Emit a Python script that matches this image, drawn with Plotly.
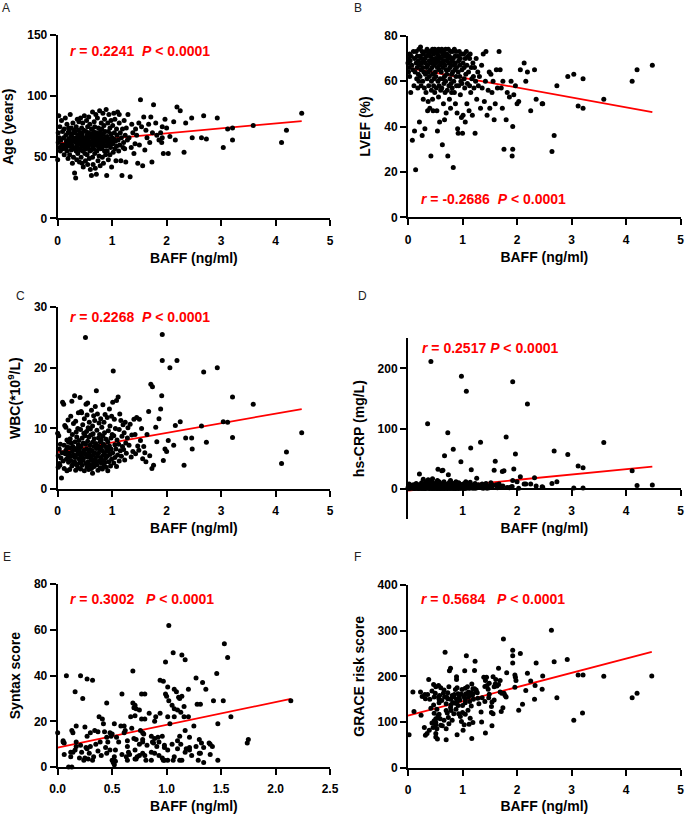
import plotly.graph_objects as go

# ---------------- Panels A-D: shared BAFF values (ng/ml) ----------------
baff_cluster = [
    0.00,0.01,0.01,0.02,0.03,0.03,0.04,0.05,0.06,0.07,0.08,0.09,0.10,
    0.11,0.12,0.12,0.13,0.14,0.15,0.15,0.16,0.17,0.17,0.18,0.19,0.19,0.20,0.20,
    0.21,0.21,0.22,0.22,0.23,0.24,0.24,0.25,0.25,0.26,0.26,0.27,0.27,0.28,0.28,0.29,0.29,0.30,
    0.31,0.31,0.32,0.32,0.33,0.33,0.34,0.34,0.35,0.35,0.36,0.36,0.37,0.37,0.38,0.38,0.39,0.39,0.40,0.40,
    0.41,0.41,0.42,0.42,0.43,0.43,0.43,0.44,0.44,0.45,0.45,0.45,0.46,0.46,0.47,0.47,0.48,0.48,0.49,0.49,0.50,0.50,
    0.51,0.51,0.52,0.52,0.53,0.53,0.54,0.54,0.54,0.55,0.55,0.56,0.56,0.57,0.57,0.57,0.58,0.58,0.59,0.59,0.60,0.60,
    0.61,0.61,0.62,0.62,0.63,0.63,0.64,0.64,0.64,0.65,0.65,0.66,0.66,0.67,0.67,0.67,0.68,0.68,0.69,0.69,0.70,0.70,
    0.71,0.71,0.72,0.72,0.73,0.73,0.74,0.74,0.75,0.75,0.76,0.76,0.77,0.77,0.78,0.78,0.79,0.79,0.80,0.80,0.80,
    0.81,0.81,0.82,0.82,0.83,0.83,0.84,0.84,0.85,0.85,0.86,0.86,0.87,0.87,0.88,0.88,0.89,0.89,0.90,
    0.91,0.91,0.92,0.92,0.93,0.93,0.94,0.95,0.95,0.96,0.96,0.97,0.98,0.98,0.99,0.99,1.00,
    1.01,1.01,1.02,1.03,1.03,1.04,1.05,1.05,1.06,1.07,1.08,1.08,1.09,1.10,
    1.11,1.12,1.13,1.13,1.14,1.15,1.16,1.17,1.18,1.19,1.20,
    1.21,1.22,1.23,1.24,1.25,1.26,1.28,1.29,
    1.31,1.33,1.35,1.36,1.38,1.40,
    1.42,1.43,1.45,1.47,1.49,
]
baff_sparse = [4.48,4.20,4.11,3.59,3.21,3.21,3.12,3.04,2.93,2.73,
               2.68,2.64,2.47,2.46,2.35,2.32,2.25,2.19,2.16,2.13,
               2.06,2.03,2.00,1.97,1.94,1.92,1.92,1.91,1.89,1.86,
               1.80,1.76,1.73,1.74,1.71,1.67,1.64,1.60,1.58,1.56,
               1.54,1.52,1.69,1.82,1.62,1.50]

age_cluster = [
    48,62,70,84,58,66,75,55,64,80,60,71,57,
    66,52,73,60,82,58,68,63,55,77,61,70,49,65,74,
    59,71,64,52,85,62,67,56,74,60,69,45,63,78,57,66,50,72,
    37,64,58,70,33,62,75,55,66,48,81,60,68,53,72,63,57,79,65,46,
    61,70,56,82,64,50,67,59,74,45,63,69,55,78,60,42,66,72,58,84,53,65,
    62,47,71,57,80,64,52,68,60,75,44,66,58,83,63,70,49,61,77,55,67,40,
    69,56,35,73,61,66,50,87,59,64,44,71,57,79,62,68,53,75,41,65,85,60,
    36,63,70,55,82,61,47,67,58,74,64,51,88,60,69,43,72,57,66,78,62,
    58,73,64,50,86,62,69,45,76,60,55,81,66,71,52,63,89,59,35,
    67,55,78,62,71,48,85,60,65,52,74,58,69,80,63,42,66,
    61,76,54,86,65,70,57,81,63,47,73,59,68,87,
    64,55,78,85,60,70,47,66,35,73,58,
    62,80,57,68,46,74,64,85,
    66,34,58,77,70,53,
    61,73,68,45,78,
]
age_sparse = [86,72,62,76,74,64,73,58,82,65,
              84,66,66,82,78,54,88,91,64,79,
              67,53,74,81,53,75,66,62,70,64,
              78,93,46,70,83,77,66,56,83,43,
              75,97,62,68,72,60]

lvef_cluster = [
    68,70,64,66,72,62,69,55,71,67,34,65,73,
    58,38,70,64,21,68,73,61,66,71,57,69,63,74,60,
    67,42,71,62,75,65,58,70,68,36,73,60,66,52,72,64,69,57,
    70,39,63,68,73,55,66,71,61,74,47,67,64,51,72,58,69,62,73,48,
    65,71,27,68,60,73,56,70,66,74,52,63,69,47,72,58,67,61,74,55,70,64,
    68,62,73,57,70,47,66,38,72,60,69,74,53,65,71,58,67,42,73,61,56,68,
    70,64,74,57,32,68,61,72,66,50,73,59,69,43,62,71,55,67,74,60,65,46,
    72,63,69,56,27,70,65,74,58,68,52,71,61,66,73,48,67,59,70,63,55,
    69,57,73,64,22,70,60,67,74,55,65,71,50,68,62,73,58,66,46,
    71,39,64,37,69,58,73,62,67,54,70,60,72,44,65,59,37,
    68,45,72,61,66,57,42,70,63,73,50,67,59,71,
    64,47,70,58,72,55,66,61,45,68,62,
    57,66,37,60,70,52,64,58,
    62,48,67,57,72,51,
    60,73,45,56,64,
]
lvef_sparse = [67,65,60,52,61,48,49,63,62,58,
               36,29,50,50,52,65,47,64,60,68,
               65,51,50,58,54,40,30,27,60,53,
               43,30,48,60,57,73,57,50,43,60,
               55,63,65,55,65,48]

wbc_cluster = [
    9.2,3.6,5.5,8.8,4.2,6.6,3.9,7.4,5.1,1.8,6.0,14.3,4.6,
    14.0,7.2,3.4,10.5,5.8,6.4,10.2,4.9,8.1,3.0,6.9,5.3,11.4,7.7,4.4,
    5.9,9.6,3.2,6.8,8.3,4.7,12.0,5.4,7.6,3.8,14.5,6.2,9.0,4.1,7.0,5.6,10.8,6.5,
    15.4,4.5,7.8,5.2,11.2,3.1,6.7,9.4,4.0,8.6,5.7,6.3,10.0,3.5,7.3,12.6,5.0,8.0,6.1,4.3,
    15.1,6.8,3.3,9.8,5.5,12.8,7.1,4.6,12.6,6.0,8.4,3.9,10.6,5.2,7.6,4.8,9.2,6.4,3.0,11.6,5.8,8.8,
    7.4,25.0,4.2,14.0,6.6,9.5,3.6,12.2,5.3,14.2,7.9,4.5,10.1,6.2,8.6,3.2,11.0,5.7,7.2,4.0,9.9,6.5,
    5.1,8.9,3.4,13.0,6.3,4.7,10.4,7.7,2.6,9.1,5.6,12.1,4.2,7.0,8.3,3.7,6.0,11.3,5.0,13.6,7.5,4.4,
    6.7,16.2,4.0,9.7,5.4,12.4,7.1,3.1,8.4,5.9,10.9,4.6,6.5,9.0,3.5,7.8,11.6,5.2,6.9,4.3,8.1,
    4.8,10.2,6.3,3.3,8.7,13.9,5.6,7.4,3.9,11.0,6.0,9.3,4.4,12.3,7.0,5.1,8.2,3.6,6.6,
    11.8,5.4,7.8,3.0,9.6,6.2,4.5,13.2,7.1,5.7,10.4,3.8,8.4,6.6,12.0,4.9,9.0,
    14.3,6.0,19.5,8.8,4.3,11.5,7.3,5.2,10.0,6.6,3.7,14.6,8.1,5.6,
    15.2,7.4,9.8,4.6,12.4,6.3,11.3,5.4,8.7,7.0,10.6,
    6.5,9.3,4.8,11.0,7.6,5.9,8.4,10.1,
    7.2,10.7,5.3,8.9,6.2,11.5,
    9.0,5.8,11.8,7.1,6.4,
]
wbc_sparse = [9.3,6.1,4.2,14.0,15.2,8.5,11.0,11.1,20.0,7.7,
              19.3,10.4,6.6,8.4,8.4,3.9,11.1,21.2,10.5,7.2,
              20.0,8.0,6.2,6.6,4.7,25.5,21.2,15.4,13.2,11.6,
              10.2,3.9,3.4,16.9,17.3,12.8,9.0,6.0,7.0,5.0,
              10.0,8.0,5.5,7.8,4.5,11.5]

crp_cluster = [
    2,5,1,8,3,0.5,4,1.5,6,2,3,1,7,
    1,3,0.5,5,2,9,1,4,2.5,1,6,0.5,3,2,7,
    24.7,1,4,2,6,0.5,3,10,1.5,5,2,8,1,3.5,16,0.5,4,2,
    1,6,3,0.5,12,2,4,1.5,9,3,108,1,5,15,2,7,0.5,3,11,1,
    4,2,8,211.5,1,5,3,0.5,13,2,6,17,1,4,2.5,9,0.5,3,7,1.5,5,2,
    1,6,3,10,0.5,2,4,14,1,32.4,5,2,8,0.5,3,12,1,6,2,4,0.5,7,
    3,1,30,5,2,9,0.5,31,4,1.5,7,2,12,0.5,5,55,3,1,8,2,6,4,
    1,5,3,0.5,93,2,23.6,8,1,4,2,11,0.5,6,3,14,1,5,2,9,3,
    2,6,1,4,66,0.5,3,9,2,5,1,7,3,0.5,12,2,4,1,8,
    3,1,6,2,10,0.5,4,2,8,1,5,45,3,187,7,1,4,
    2,6,1,9,3,0.5,5,2,12,162,1,4,7,3,
    5,2,8,1,11,68,31.9,3,6,1,4,
    2,6,9,1,4,17.6,3,7,
    5,77.5,2,8,1,4,
    3,9,1,5,2,
]
crp_sparse = [6.6,5.5,30,77,35,1.5,38,1.6,57,12,
              63,8.8,2.7,3.5,5,18.7,8.2,141,8.2,8,
              20,1.1,12,58,33,178,14,4,3,2,
              86,30,29,5,3,8,2,46,31,6,
              3,10,4,2.5,7,5]

# ---------------- Panel E: Syntax score subset ----------------
e_baff = [
    1.02,1.53,1.06,1.14,1.56,1.17,0.99,0.69,1.46,0.08,0.21,1.27,
    0.27,0.32,0.94,0.97,1.33,1.01,1.07,1.20,1.36,0.16,1.09,
    0.59,0.77,0.80,0.99,1.00,1.14,1.11,0.23,1.12,1.02,1.52,1.43,2.14,
    0.45,0.69,1.28,1.31,1.05,0.70,0.71,0.72,0.75,1.07,1.10,1.16,
    0.84,0.94,1.13,0.38,0.67,0.71,0.90,1.01,1.07,1.16,1.20,1.59,
    0.41,0.77,0.80,0.89,0.17,0.25,0.42,0.52,0.58,0.61,1.03,1.25,1.47,0.68,
    0.13,0.14,0.30,0.34,0.37,0.43,0.48,0.50,0.62,0.61,0.76,0.78,0.79,1.17,0.00,
    0.27,0.45,0.49,0.54,0.86,0.89,0.92,0.96,1.12,1.21,1.75,
    0.05,0.05,0.06,0.17,0.35,0.39,0.46,0.56,0.64,0.70,0.72,0.75,0.78,0.78,0.87,0.88,0.93,1.05,1.10,1.13,1.30,1.32,1.39,1.40,1.74,
    0.16,0.17,0.21,0.26,0.27,0.30,0.44,0.48,0.53,0.64,0.71,0.82,0.91,0.98,0.98,1.01,1.10,1.18,1.21,1.21,1.27,1.34,1.42,
    0.06,0.12,0.12,0.14,0.22,0.29,0.33,0.37,0.40,0.45,0.52,0.59,0.63,0.65,0.66,0.75,0.78,0.80,0.86,0.89,0.93,1.17,1.23,1.30,1.31,1.40,
    0.20,0.25,0.28,0.24,0.32,0.50,0.53,0.64,0.71,0.72,0.73,0.81,0.86,0.96,0.97,0.98,1.01,1.06,1.07,1.12,1.14,1.29,1.34,1.47,
    0.51,0.52,0.10,0.13,
]
syntax_score = [
    62,54,50,49,48,47,46,42,41,40,40,39,
    38.5,38,38,37.5,37,35,34,34,34,33,33,
    32,32,32,32,31,31,30.5,30,30,29,29,29,29,
    28,28,27.5,27.5,27,26,27,25.5,25,25.5,25,26.5,
    23.5,23.5,24,22,22,22.5,22,22,22,22,22,22,
    21,21,21,20,18,17.5,19,19,18,18,19,18,19,17,
    16,15,15,16,15.5,15.5,15,14.5,16,15,16,15,14.5,16,15,
    13.5,13,13.5,13,13.5,12.5,13,13.5,13.5,13,12,
    11.5,11,10.5,11,10,11,11,11,11.5,12.5,12,10,11,12,11,10.5,11,10,11.5,10,12,10.5,10.5,10,10.5,
    7.5,9,9.5,8.5,8,9,8.5,7.5,7.5,9,7.5,9.5,9,9.5,8.5,7.5,8,8,8.5,7.5,9,8.5,9,
    5.5,4.5,6.5,6.5,6.5,6,4.5,7,5,6,4.5,5.5,4.5,6.5,5.5,5,6,5,6.5,6,5,6.5,5,6,6,5.5,
    4,4,3.5,3,3,3,2.5,3,3.5,3.5,4.5,3,3,4,3,3,3,3,4.5,3,3,3,2,3,
    2,1,0,0,
]

# ---------------- Panel F: GRACE risk score subset ----------------
f_baff = [
    2.63,1.75,0.68,1.92,1.92,2.06,1.07,1.23,1.92,2.35,2.68,2.92,1.66,0.78,0.76,1.04,1.22,1.81,1.96,2.19,2.47,3.21,3.12,3.59,4.47,
    0.89,0.89,0.38,1.39,1.44,1.56,1.61,1.42,1.69,1.98,2.25,1.49,1.60,1.45,1.41,1.58,1.63,1.66,1.96,2.33,
    2.46,1.17,1.09,0.56,0.51,0.47,0.60,0.75,0.90,0.87,0.99,1.05,1.19,1.22,1.97,1.47,
    2.16,1.25,1.11,0.09,0.23,0.31,0.50,0.65,0.73,0.67,0.71,0.81,0.92,0.98,1.06,1.16,1.19,1.27,1.49,1.69,
    1.72,1.76,1.78,1.80,2.73,2.32,4.11,4.20,0.26,0.32,0.48,0.56,0.57,0.73,0.78,0.84,0.89,0.94,1.03,1.05,
    1.11,1.18,1.28,1.36,1.48,0.44,0.66,0.85,0.36,0.58,1.12,1.25,1.20,0.40,
    1.41,1.54,0.82,0.87,0.79,0.57,0.47,0.90,1.00,1.05,0.92,0.78,1.16,1.53,1.74,1.71,2.10,2.03,3.20,0.11,
    0.70,0.72,0.88,1.10,1.34,1.53,0.62,0.95,1.13,1.30,0.70,0.79,1.00,0.53,1.58,0.42,
    3.04,0.24,0.48,0.55,0.57,0.93,1.05,1.56,0.51,0.59,0.66,0.81,0.51,0.48,0.44,0.51,0.60,0.75,0.98,1.03,
    1.12,1.19,1.35,1.54,0.84,0.74,0.96,1.14,0.63,
    0.46,0.53,0.70,1.01,0.30,0.39,0.32,0.35,0.02,0.51,0.90,0.51,0.54,0.70,1.17,1.42,
]
grace_score = [
    301,282,253,257,245,250,245,233,229,229,232,237,218,218,212,212,213,208,203,207,201,203,203,200,201,
    199,193,193,198,198,199,193,191,191,191,190,185,183,180,178,177,179,182,176,180,
    172,183,177,180,177,182,175,177,175,171,171,174,173,173,198,172,
    169,167,166,166,166,160,163,163,164,155,155,158,162,161,162,164,162,164,161,166,
    163,163,158,155,153,150,153,163,156,151,155,155,150,151,150,155,150,154,155,150,
    155,158,152,153,153,168,170,160,160,158,160,170,150,150,
    145,144,143,141,138,142,137,145,136,142,136,132,135,134,131,123,139,126,120,123,
    125,120,128,126,122,121,147,148,145,140,140,125,121,128,148,130,
    104,115,119,113,117,118,117,118,107,107,104,104,99,103,98,94,93,96,101,94,
    95,99,100,92,118,110,112,108,92,
    88,85,85,82,88,82,71,75,72,75,72,67,63,61,64,76,
]

# Regression lines (intercept, slope), panels A-F
fit_intercepts = [61.4, 65.9, 6.1, -2.8, 8.5, 113.9]
fit_slopes = [4.06, -4.375, 1.585, 8.89, 9.97, 31.3]

panel_letters = ["A", "B", "C", "D", "E", "F"]
stat_texts = [
    "<b><i>r</i> = 0.2241\u00a0\u00a0<i>P</i> &lt; 0.0001</b>",
    "<b><i>r</i> = -0.2686\u00a0\u00a0<i>P</i> &lt; 0.0001</b>",
    "<b><i>r</i> = 0.2268\u00a0\u00a0<i>P</i> &lt; 0.0001</b>",
    "<b><i>r</i> = 0.2517 <i>P</i> &lt; 0.0001</b>",
    "<b><i>r</i> = 0.3002\u00a0\u00a0\u00a0<i>P</i> &lt; 0.0001</b>",
    "<b><i>r</i> = 0.5684\u00a0\u00a0\u00a0<i>P</i> &lt; 0.0001</b>",
]
y_titles = ["Age (years)", "LVEF (%)", "WBC(*10<sup>9</sup>/L)", "hs-CRP (mg/L)",
            "Syntax score", "GRACE risk score"]
x_title = "BAFF (ng/ml)"

baff = baff_cluster + baff_sparse
age = age_cluster + age_sparse
lvef = lvef_cluster + lvef_sparse
wbc = wbc_cluster + wbc_sparse
crp = crp_cluster + crp_sparse
for arr in (age, lvef, wbc, crp):
    assert len(arr) == len(baff), (len(arr), len(baff))
assert len(e_baff) == len(syntax_score), (len(e_baff), len(syntax_score))
assert len(f_baff) == len(grace_score), (len(f_baff), len(grace_score))

panels = [(baff, age), (baff, lvef), (baff, wbc), (baff, crp),
          (e_baff, syntax_score), (f_baff, grace_score)]

FONT = "Liberation Sans, Arial, sans-serif"
fig = go.Figure()

for i, (xs, ys) in enumerate(panels):
    sfx = "" if i == 0 else str(i + 1)
    xmax = max(xs)
    fig.add_trace(go.Scatter(
        x=[0, xmax],
        y=[fit_intercepts[i], fit_intercepts[i] + fit_slopes[i] * xmax],
        mode="lines", line=dict(color="#ff0000", width=1.8),
        xaxis="x" + sfx, yaxis="y" + sfx, showlegend=False, hoverinfo="skip"))
    fig.add_trace(go.Scatter(
        x=xs, y=ys, mode="markers",
        marker=dict(color="black", size=5, line=dict(width=0)),
        cliponaxis=False,
        xaxis="x" + sfx, yaxis="y" + sfx, showlegend=False))

left_dom = [0.0842, 0.4818]
right_dom = [0.5956, 0.9937]
x_domains = [left_dom, right_dom, left_dom, right_dom, left_dom, right_dom]
y_domains = [[0.7318, 0.957], [0.733, 0.9561], [0.3993, 0.6225],
             [0.3624, 0.5844], [0.0577, 0.2822], [0.0569, 0.2813]]
y_ranges = [[0, 150], [0, 80], [0, 30], [-50, 250], [0, 80], [0, 400]]
y_ticks = [[0, 50, 100, 150], [0, 20, 40, 60, 80], [0, 10, 20, 30],
           [0, 100, 200], [0, 20, 40, 60, 80], [0, 100, 200, 300, 400]]
x_ranges = [[0, 5]] * 4 + [[0, 2.5], [0, 5]]
x_ticks = [[0, 1, 2, 3, 4, 5]] * 3 + [[1, 2, 3, 4, 5], [0, 0.5, 1, 1.5, 2, 2.5], [0, 1, 2, 3, 4, 5]]

common = dict(showline=True, linecolor="black", linewidth=2, ticks="outside",
              ticklen=6, tickwidth=2, tickcolor="black", showgrid=False,
              zeroline=False, fixedrange=True, automargin=False,
              tickfont=dict(family=FONT, size=12, color="black", weight="bold"))

layout = {}
for i in range(6):
    sfx = "" if i == 0 else str(i + 1)
    xa = dict(common, domain=x_domains[i], range=x_ranges[i], tickvals=x_ticks[i],
              anchor="y" + sfx, ticklabelstandoff=4,
              title=dict(text=x_title, standoff=6,
                         font=dict(family=FONT, size=14, color="black", weight="bold")))
    if i == 4:
        xa["tickformat"] = ".1f"
    if i == 3:
        xa["anchor"] = "free"
        xa["position"] = 0.3989
    ya = dict(common, domain=y_domains[i], range=y_ranges[i], tickvals=y_ticks[i],
              anchor="x" + sfx,
              title=dict(text=y_titles[i], standoff=10,
                         font=dict(family=FONT, size=14, color="black", weight="bold")))
    layout["xaxis" + sfx] = xa
    layout["yaxis" + sfx] = ya

letter_pos = [(6, 8), (358, 8), (20, 296), (362, 296), (7, 557), (357, 557)]
stat_pos = [(68, 51), (419, 199), (68, 317), (420, 348), (68, 599), (419, 599)]
W, H = 685, 814
annotations = []
for i in range(6):
    lx, ly = letter_pos[i]
    annotations.append(dict(x=lx / W, y=1 - ly / H, xref="paper", yref="paper",
                            text=panel_letters[i], showarrow=False,
                            xanchor="center", yanchor="middle",
                            font=dict(family=FONT, size=12, color="#222222")))
    sx, sy = stat_pos[i]
    annotations.append(dict(x=sx / W, y=1 - sy / H, xref="paper", yref="paper",
                            text=stat_texts[i], showarrow=False,
                            xanchor="left", yanchor="middle",
                            font=dict(family=FONT, size=14, color="#ff0000")))

fig.update_layout(
    width=W, height=H,
    margin=dict(l=0, r=0, t=0, b=0, autoexpand=False),
    paper_bgcolor="white", plot_bgcolor="white",
    font=dict(family=FONT, color="black"),
    annotations=annotations,
    showlegend=False,
    **layout,
)

# remove the browser's default 8px body margin so the figure fills the window
fig.write_html("out.html",
               config={"displayModeBar": False},
               post_script="document.body.style.margin='0';document.body.style.padding='0';")
